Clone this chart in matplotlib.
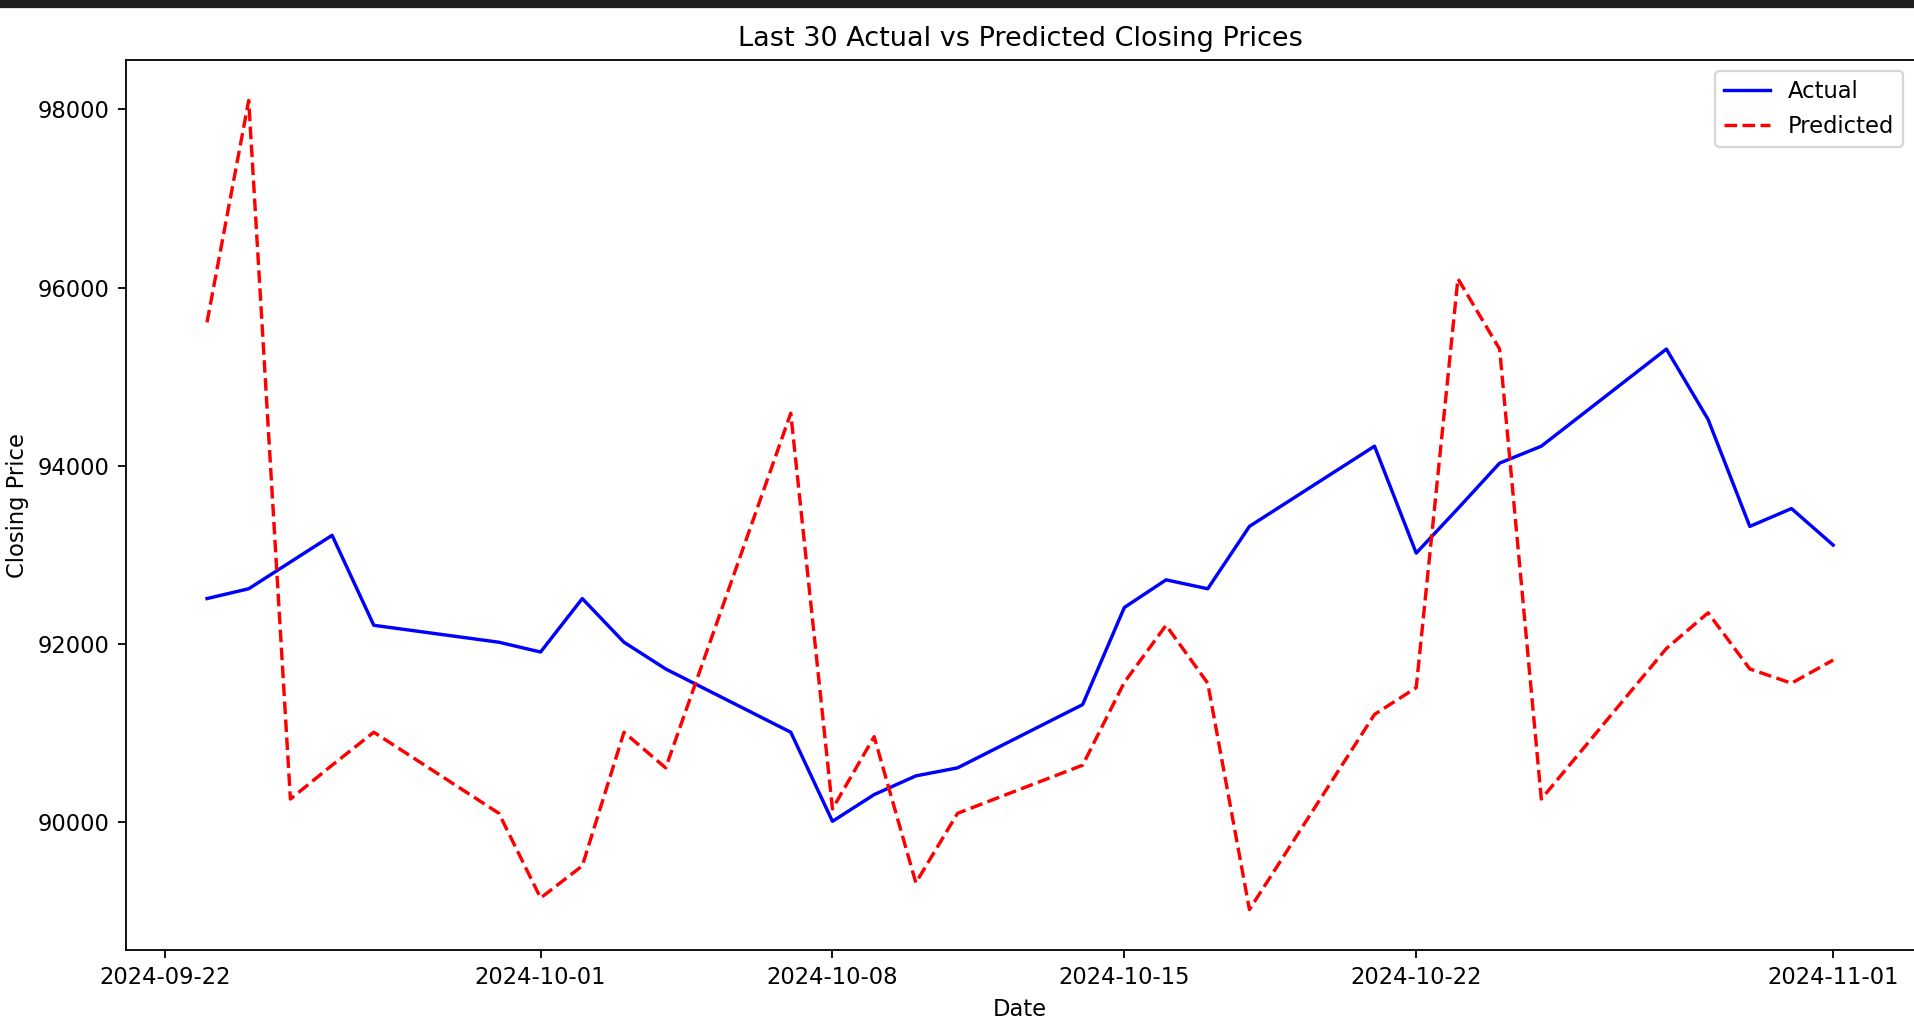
import matplotlib
matplotlib.use("Agg")
import matplotlib.pyplot as plt
import matplotlib.dates as mdates
import pandas as pd

# business days, 2024-09-23 .. 2024-11-01
dates = pd.to_datetime([
    "2024-09-23", "2024-09-24", "2024-09-25", "2024-09-26", "2024-09-27",
    "2024-09-30", "2024-10-01", "2024-10-02", "2024-10-03", "2024-10-04",
    "2024-10-07", "2024-10-08", "2024-10-09", "2024-10-10", "2024-10-11",
    "2024-10-14", "2024-10-15", "2024-10-16", "2024-10-17", "2024-10-18",
    "2024-10-21", "2024-10-22", "2024-10-23", "2024-10-24", "2024-10-25",
    "2024-10-28", "2024-10-29", "2024-10-30", "2024-10-31", "2024-11-01",
])
actual = [
    92510, 92620, 92920, 93220, 92210,
    92020, 91910, 92510, 92020, 91720,
    91010, 90010, 90310, 90520, 90610,
    91320, 92410, 92720, 92620, 93320,
    94220, 93020, 93520, 94030, 94220,
    95310, 94520, 93320, 93520, 93110,
]
predicted = [
    95610, 98100, 90260, 90640, 91010,
    90100, 89150, 89510, 91010, 90610,
    94590, 90150, 90960, 89320, 90100,
    90640, 91570, 92210, 91560, 89020,
    91210, 91510, 96100, 95310, 90260,
    91950, 92350, 91720, 91560, 91820,
]

# the screenshot looks like a default figure rendered at ~163 dpi
W, H, DPI = 1914, 1028, 163
fig = plt.figure(figsize=(W / DPI, H / DPI), dpi=DPI)
ax = fig.add_axes([125.7 / W, 1 - 950 / H, (1914.5 - 125.7) / W, (950 - 60) / H])

ax.plot(dates, actual, color="blue", label="Actual")
ax.plot(dates, predicted, color="red", linestyle="--", label="Predicted")

ax.xaxis.set_major_locator(mdates.DayLocator(bymonthday=[1, 8, 15, 22]))
ax.xaxis.set_major_formatter(mdates.DateFormatter("%Y-%m-%d"))

ax.set_title("Last 30 Actual vs Predicted Closing Prices")
ax.set_xlabel("Date")
ax.set_ylabel("Closing Price")
ax.legend(loc="upper right")

# dark strip along the top of the screenshot
fig.patches.append(plt.Rectangle((0, 1 - 7 / H), 1, 7 / H, transform=fig.transFigure,
                                 color="#1e1e1e", zorder=10))

fig.savefig("out.png", dpi=DPI)
